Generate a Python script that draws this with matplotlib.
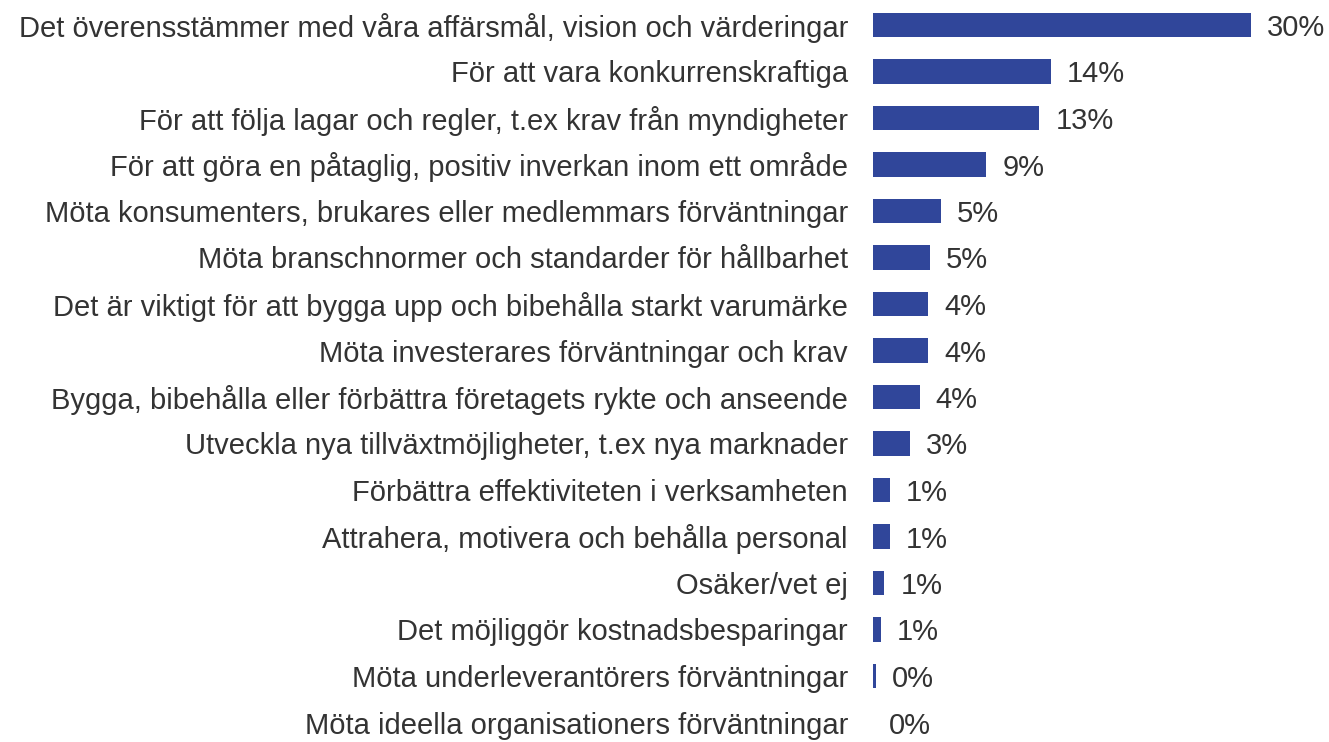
import matplotlib
matplotlib.use('Agg')
import matplotlib.pyplot as plt

categories = [
    'Det överensstämmer med våra affärsmål, vision och värderingar',
    'För att vara konkurrenskraftiga',
    'För att följa lagar och regler, t.ex krav från myndigheter',
    'För att göra en påtaglig, positiv inverkan inom ett område',
    'Möta konsumenters, brukares eller medlemmars förväntningar',
    'Möta branschnormer och standarder för hållbarhet',
    'Det är viktigt för att bygga upp och bibehålla starkt varumärke',
    'Möta investerares förväntningar och krav',
    'Bygga, bibehålla eller förbättra företagets rykte och anseende',
    'Utveckla nya tillväxtmöjligheter, t.ex nya marknader',
    'Förbättra effektiviteten i verksamheten',
    'Attrahera, motivera och behålla personal',
    'Osäker/vet ej',
    'Det möjliggör kostnadsbesparingar',
    'Möta underleverantörers förväntningar',
    'Möta ideella organisationers förväntningar',
]
values = [30.0, 14.1, 13.2, 9.0, 5.4, 4.5, 4.4, 4.4, 3.7, 2.9, 1.35, 1.35, 0.9, 0.6, 0.2, 0.0]
value_labels = ['30%', '14%', '13%', '9%', '5%', '5%', '4%', '4%', '4%', '3%',
                '1%', '1%', '1%', '1%', '0%', '0%']

plt.rcParams['font.family'] = ['Liberation Sans', 'DejaVu Sans']

W, H = 1329, 742
fig = plt.figure(figsize=(W / 100, H / 100), dpi=100)
ax = fig.add_axes([873 / W, 0, 1 - 873 / W, 1])

bar_color = '#30469A'
text_color = '#333333'

ypos = list(range(len(categories)))
ax.barh(ypos, values, height=0.52, color=bar_color)

for y, v, lab in zip(ypos, values, value_labels):
    ax.annotate(lab, xy=(v, y), xytext=(11.5, 0), textcoords='offset points',
                va='center_baseline', ha='left', fontsize=21, color=text_color)

# row pitch ~46.5 px, first row centred ~25 px from the top
ax.set_xlim(0, (W - 873) / 12.6)
ax.set_ylim(15 + (H - 25 - 15 * 46.5) / 46.5, -25 / 46.5)
ax.set_yticks(ypos)
ax.set_yticklabels(categories, fontsize=21, color=text_color)
ax.tick_params(axis='y', length=0, pad=18)
ax.set_xticks([])
for s in ax.spines.values():
    s.set_visible(False)

fig.savefig('out.png', dpi=100)
